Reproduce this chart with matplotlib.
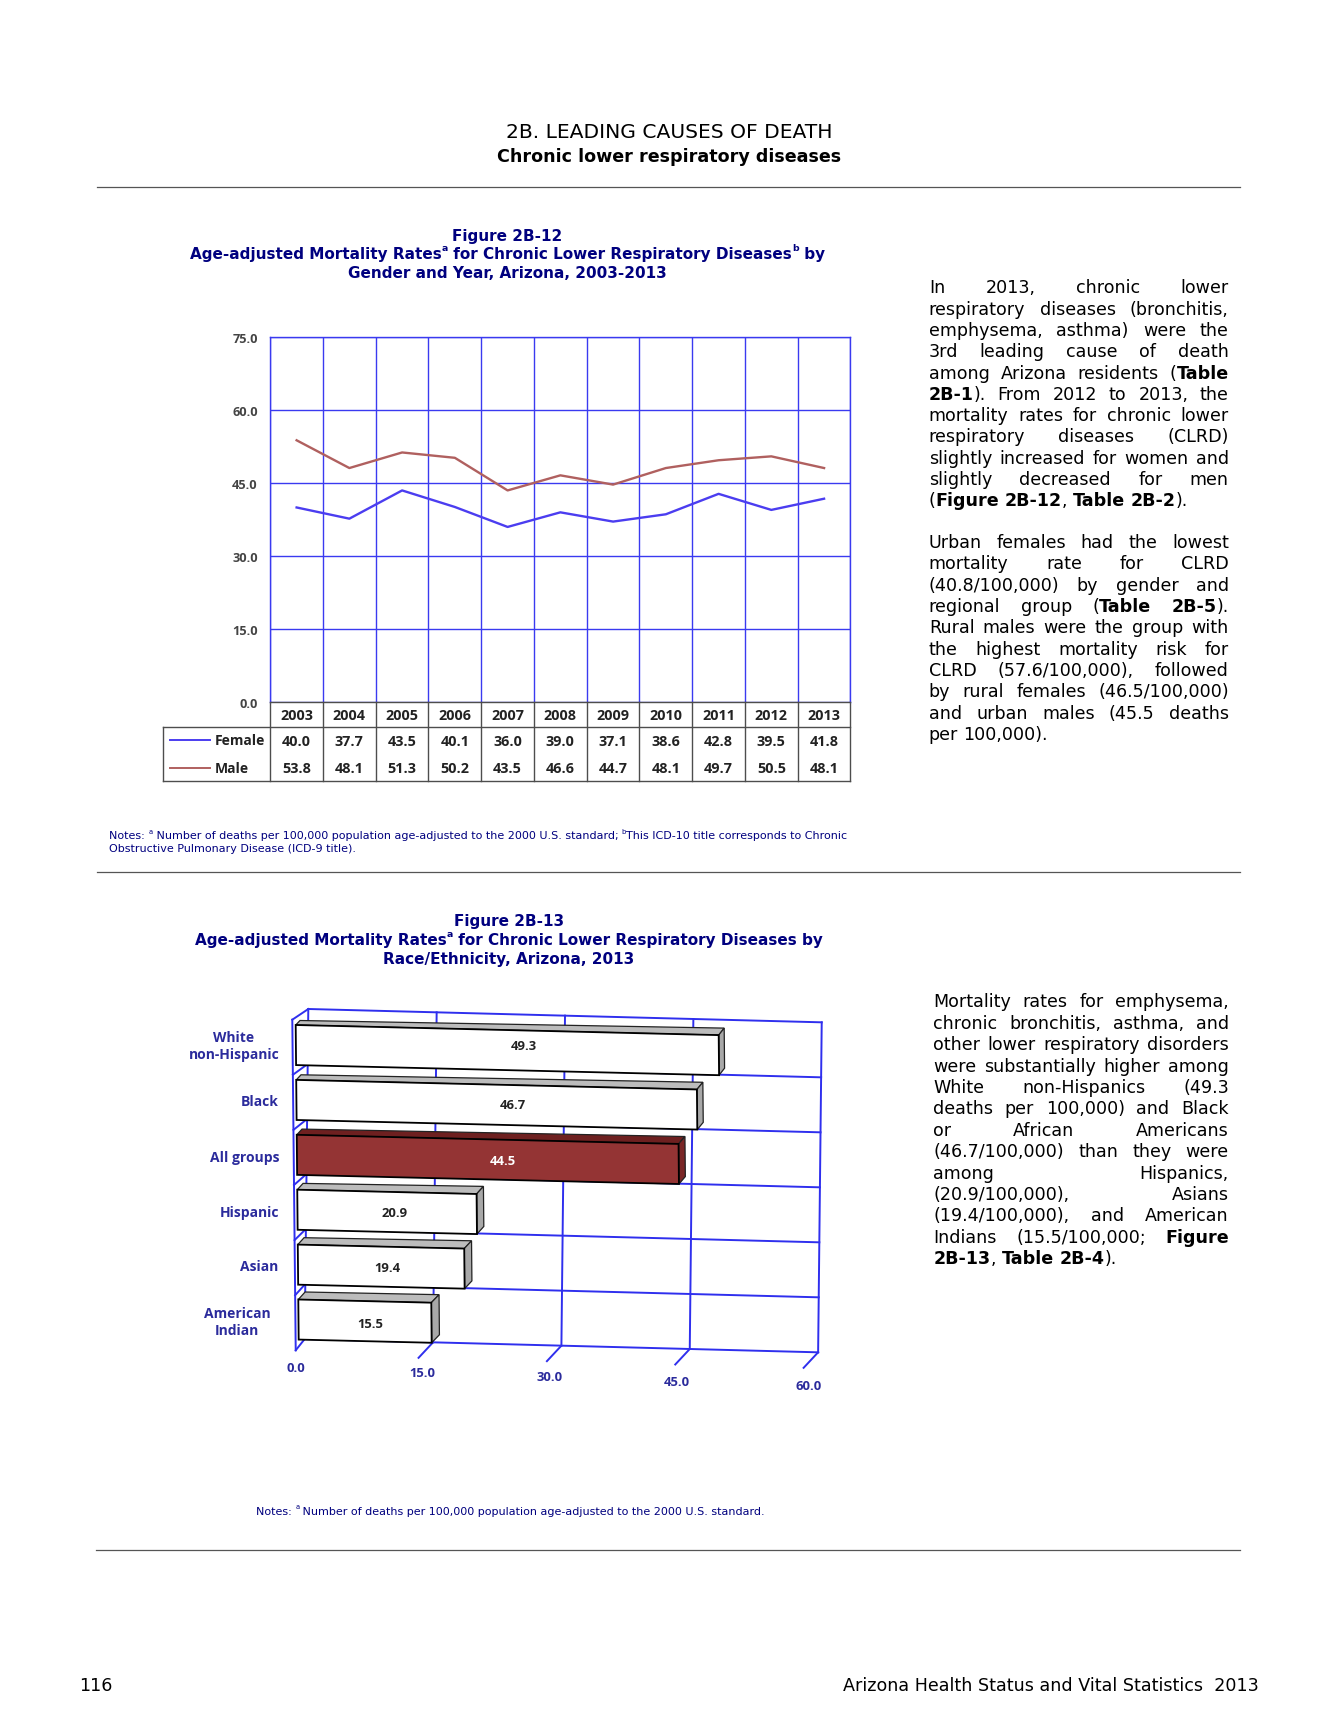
import matplotlib
matplotlib.use("Agg")
import matplotlib.pyplot as plt
from matplotlib.patches import Polygon
from matplotlib.transforms import Affine2D

plt.rcParams["font.family"] = "DejaVu Sans"

# chart data
years = [2003, 2004, 2005, 2006, 2007, 2008, 2009, 2010, 2011, 2012, 2013]
female = [40.0, 37.7, 43.5, 40.1, 36.0, 39.0, 37.1, 38.6, 42.8, 39.5, 41.8]
male = [53.8, 48.1, 51.3, 50.2, 43.5, 46.6, 44.7, 48.1, 49.7, 50.5, 48.1]
line_ticks = [0, 15, 30, 45, 60, 75]

groups = ["White\nnon-Hispanic", "Black", "All groups", "Hispanic", "Asian", "American\nIndian"]
rates = [49.3, 46.7, 44.5, 20.9, 19.4, 15.5]
bar_ticks = [0, 15, 30, 45, 60]

# page text, * switches bold on and off
para1 = ["In 2013, chronic lower",
         "respiratory diseases (bronchitis,",
         "emphysema, asthma) were the",
         "3rd leading cause of death",
         "among Arizona residents (*Table*",
         "*2B-1*). From 2012 to 2013, the",
         "mortality rates for chronic lower",
         "respiratory diseases (CLRD)",
         "slightly increased for women and",
         "slightly decreased for men",
         "(*Figure 2B-12*, *Table 2B-2*)."]
para2 = ["Urban females had the lowest",
         "mortality rate for CLRD",
         "(40.8/100,000) by gender and",
         "regional group (*Table 2B-5*).",
         "Rural males were the group with",
         "the highest mortality risk for",
         "CLRD (57.6/100,000), followed",
         "by rural females (46.5/100,000)",
         "and urban males (45.5 deaths",
         "per 100,000)."]
para3 = ["Mortality rates for emphysema,",
         "chronic bronchitis, asthma, and",
         "other lower respiratory disorders",
         "were substantially higher among",
         "White non-Hispanics (49.3",
         "deaths per 100,000) and Black",
         "or African Americans",
         "(46.7/100,000) than they were",
         "among Hispanics,",
         "(20.9/100,000), Asians",
         "(19.4/100,000), and American",
         "Indians (15.5/100,000; *Figure*",
         "*2B-13*, *Table 2B-4*)."]

NAVY = "#00007f"
GRID = "#3a3af0"
WALL = "#2f2fee"
LABEL = "#2b2b9c"
TABLE_LINE = "#4d4d4d"
TABLE_TEXT = "#222222"
TABLE_FONT = "Open Sans"
BODY_SIZE = 12.6
TITLE_SIZE = 10.95
NOTE_SIZE = 8.03

W, H = 1338, 1731
K = W / 1213.0  # pixels per page unit

fig = plt.figure(figsize=(W / 100, H / 100), dpi=100)
page = fig.add_axes([0, 0, 1, 1])
page.set_xlim(0, W / K)
page.set_ylim(H / K, 0)
page.axis("off")
renderer = fig.canvas.get_renderer()
# real pixels, y down
pixels = Affine2D().scale(1, -1).translate(0, H)


def text_width(s, size, weight="normal"):
    t = page.text(0, 0, "n" + s.replace(" ", "\u00a0") + "n", fontsize=size, fontweight=weight)
    w1 = t.get_window_extent(renderer).width
    t.set_text("nn")
    w0 = t.get_window_extent(renderer).width
    t.remove()
    return (w1 - w0) / K


def split_word(word, bold):
    # pieces of one word, and the bold state after it
    pieces = []
    parts = word.split("*")
    for i, p in enumerate(parts):
        if i > 0:
            bold = not bold
        if p:
            pieces.append((p, bold))
    return pieces, bold


def draw_para(lines, x0, x1, y0, step, size=BODY_SIZE):
    space = text_width(" ", size)
    bold = False
    for n, line in enumerate(lines):
        words = []
        for word in line.split(" "):
            pieces, bold = split_word(word, bold)
            wd = [text_width(p, size, "bold" if b else "normal") for p, b in pieces]
            words.append((pieces, wd))
        total = sum(sum(w[1]) for w in words)
        gap = space
        if n < len(lines) - 1 and len(words) > 1:
            gap = (x1 - x0 - total) / (len(words) - 1)
        x = x0
        for pieces, wd in words:
            for (p, b), w in zip(pieces, wd):
                page.text(x, y0 + n * step, p, fontsize=size, va="center_baseline",
                          fontweight="bold" if b else "normal", color="black")
                x += w
            x += gap


def draw_runs(runs, xc, y, size, weight="bold", color=NAVY, left=False):
    # runs of (text, is_superscript), centred on xc
    sizes = [size * 0.62 if sup else size for _, sup in runs]
    widths = [text_width(s, sz, weight) for (s, _), sz in zip(runs, sizes)]
    x = xc if left else xc - sum(widths) / 2
    for (s, sup), sz, w in zip(runs, sizes, widths):
        page.text(x, y - (size * 0.45 if sup else 0), s.replace(" ", "\u00a0"), fontsize=sz,
                  fontweight=weight, color=color, va="center_baseline")
        x += w


# page header, rules and footer
page.text(606.5, 118, "2B. LEADING CAUSES OF DEATH", fontsize=14.6, ha="center", va="center_baseline")
page.text(607, 140.3, "Chronic lower respiratory diseases", fontsize=12.6, ha="center",
          va="center_baseline", fontweight="bold")
for y, x0 in [(170.5, 88), (791, 88), (1406.5, 87)]:
    page.plot([x0, 1124], [y, y], color="#555555", lw=0.9)
page.text(72, 1527, "116", fontsize=BODY_SIZE, va="center_baseline")
page.text(1141, 1527, "Arizona Health Status and Vital Statistics  2013", fontsize=BODY_SIZE,
          ha="right", va="center_baseline")

draw_para(para1, 842, 1114, 259.5, 19.33)
draw_para(para2, 842, 1114, 490.5, 19.33)
draw_para(para3, 846, 1114, 907, 19.4)

# figure 2B-12 titles
draw_runs([("Figure 2B-12", False)], 460, 212.7, TITLE_SIZE)
draw_runs([("Age-adjusted Mortality Rates", False), ("a", True),
           (" for Chronic Lower Respiratory Diseases", False), ("b", True), (" by", False)], 460, 229.7, TITLE_SIZE)
draw_runs([("Gender and Year, Arizona, 2003-2013", False)], 460, 246.7, TITLE_SIZE)
draw_runs([("Notes: ", False), ("a", True), (" Number of deaths per 100,000 population age-adjusted to the 2000 U.S. standard; ", False),
           ("b", True), ("This ICD-10 title corresponds to Chronic", False)], 99, 757, NOTE_SIZE, "normal", left=True)
draw_runs([("Obstructive Pulmonary Disease (ICD-9 title).", False)], 99, 769, NOTE_SIZE, "normal", left=True)

# line chart
L, R, T, B = 245, 771, 306.5, 637.5
ax = fig.add_axes([L * K / W, 1 - B * K / H, (R - L) * K / W, (B - T) * K / H])
ax.patch.set_alpha(0)
xs = [i + 0.5 for i in range(len(years))]
ax.plot(xs, female, color="#4b3df0", lw=1.7, zorder=3)
ax.plot(xs, male, color="#b0605f", lw=1.7, zorder=3)
ax.set_xlim(0, len(years))
ax.set_ylim(0, 75)
ax.set_yticks(line_ticks)
ax.set_yticklabels(["%.1f" % v for v in line_ticks], fontsize=9.2, family=TABLE_FONT, fontweight="bold", color="#444444")
ax.set_xticks(range(len(years) + 1))
ax.set_xticklabels([])
ax.tick_params(length=0, pad=9)
ax.grid(True, color=GRID, lw=1.0)
for s in ["top", "left", "right"]:
    ax.spines[s].set_color(GRID)
    ax.spines[s].set_linewidth(1.0)
ax.spines["bottom"].set_color(TABLE_LINE)
ax.spines["bottom"].set_linewidth(1.0)

# data table under the line chart
tr = ax.get_xaxis_transform()
row = lambda py: -(py - B) / (B - T)
unit = (R - L) / len(years)
left_edge = (148 - L) / unit
line_kw = dict(transform=tr, color=TABLE_LINE, lw=1.0, clip_on=False)
text_kw = dict(transform=tr, ha="center", va="center", fontsize=10.4, family=TABLE_FONT,
               fontweight="bold", color=TABLE_TEXT, clip_on=False)
for i in range(len(years) + 1):
    ax.plot([i, i], [0, row(709.2)], **line_kw)
ax.plot([left_edge, len(years)], [row(660.3), row(660.3)], **line_kw)
ax.plot([left_edge, len(years)], [row(709.2), row(709.2)], **line_kw)
ax.plot([left_edge, left_edge], [row(660.3), row(709.2)], **line_kw)
for i, yr in enumerate(years):
    ax.text(i + 0.5, row(648.8), str(yr), **text_kw)
    ax.text(i + 0.5, row(673), "%.1f" % female[i], **text_kw)
    ax.text(i + 0.5, row(697.2), "%.1f" % male[i], **text_kw)
for name, col, py in [("Female", "#4b3df0", 671.8), ("Male", "#b0605f", 697.4)]:
    ax.plot([(154 - L) / unit, (190 - L) / unit], [row(py), row(py)], transform=tr, color=col, lw=1.4, clip_on=False)
    ax.text((194.5 - L) / unit, row(py), name, transform=tr, ha="left", va="center", fontsize=10,
            family=TABLE_FONT, fontweight="bold", color=TABLE_TEXT, clip_on=False)

# figure 2B-13 titles
draw_runs([("Figure 2B-13", False)], 461.5, 834.5, TITLE_SIZE)
draw_runs([("Age-adjusted Mortality Rates", False), ("a", True),
           (" for Chronic Lower Respiratory Diseases by", False)], 461.5, 851.5, TITLE_SIZE)
draw_runs([("Race/Ethnicity, Arizona, 2013", False)], 461.5, 868.5, TITLE_SIZE)
draw_runs([("Notes: ", False), ("a", True), (" Number of deaths per 100,000 population age-adjusted to the 2000 U.S. standard.", False)],
          232, 1369.5, NOTE_SIZE, "normal", left=True)

# pseudo 3D bar chart: (value, row) goes through affine planes onto the page
# x = a*v + c*row + e, y = b*v + d*row + f, in real pixels
wall = Affine2D.from_values(8.557, 0.222, -0.6, 55.0, 308.3, 1010) + pixels
front = Affine2D.from_values(8.58, 0.205, 0.52, 54.9, 295.7, 1026) + pixels
side_wall = Affine2D.from_values(0, 0, 0.57, 55.1, 292.3, 1020.7) + pixels
stub = Affine2D().translate(-14.5, -15.5)  # y is already flipped here

n_rows = len(groups)
wall_kw = dict(color=WALL, lw=1.4, zorder=2, clip_on=False)
for v in bar_ticks:
    page.plot([v, v], [0, n_rows], transform=wall, **wall_kw)
    if v > 0:
        pa = wall.transform((v, n_rows))
        pb = stub.transform(pa)
        page.plot([pa[0], pb[0]], [pa[1], pb[1]], transform=None, **wall_kw)
for r in range(n_rows + 1):
    page.plot([0, bar_ticks[-1]], [r, r], transform=wall, **wall_kw)
    pa = wall.transform((0, r))
    pb = side_wall.transform((0, r))
    page.plot([pa[0], pb[0]], [pa[1], pb[1]], transform=None, **wall_kw)
page.plot([0, 0], [0, n_rows], transform=side_wall, **wall_kw)

BAR_H = 0.73
label_frac = [0.375, 0.49, 0.51, 0.51, 0.51, 0.55]  # where the value sits on the bar face
for r, (name, v) in enumerate(zip(groups, rates)):
    hi = name == "All groups"
    face = "#943434" if hi else "white"
    top = "#6e2020" if hi else "#bcbcbc"
    side = "#7a2626" if hi else "#a8a8a8"
    # top and side faces get deeper towards the right end and the bottom rows
    left_d = (4.3 + 0.5 * r, 4.5 + 0.6 * r)
    right_d = (5.5 + 0.45 * r, 7 + 0.2 * r)
    a, b = front.transform((0, r)), front.transform((v, r))
    c = front.transform((v, r + BAR_H))
    a2, b2, c2 = a + left_d, b + right_d, c + right_d
    page.add_patch(Polygon([a, b, b2, a2], closed=True, transform=None, facecolor=top,
                           edgecolor="#222222", lw=0.9, zorder=4))
    page.add_patch(Polygon([b, c, c2, b2], closed=True, transform=None, facecolor=side,
                           edgecolor="#222222", lw=0.9, zorder=4))
    page.add_patch(Polygon([(0, r), (v, r), (v, r + BAR_H), (0, r + BAR_H)], closed=True,
                           transform=front, facecolor=face, edgecolor="black", lw=1.3, zorder=5))
    page.text(v * 0.54, r + BAR_H * label_frac[r], "%.1f" % v, transform=front, ha="center", va="center",
              fontsize=9.4, family=TABLE_FONT, fontweight="bold",
              color="white" if hi else "#222222", zorder=6)

# category labels
label_pos = [(212, 949, "center"), (252.5, 999, "right"), (253, 1050, "right"),
             (253, 1100, "right"), (252.5, 1149, "right"), (215, 1199, "center")]
for name, (x, y, ha) in zip(groups, label_pos):
    page.text(x, y, name, ha=ha, va="center", fontsize=10, family=TABLE_FONT, color=LABEL,
              fontweight="bold", linespacing=1.25)
for v, x, y in zip(bar_ticks, [268.4, 382.5, 498, 614, 733], [1241, 1245, 1248.5, 1253, 1257]):
    page.text(x, y, "%.1f" % v, ha="center", va="center", fontsize=9.4, family=TABLE_FONT,
              color=LABEL, fontweight="bold")

fig.savefig("out.png", dpi=100)
